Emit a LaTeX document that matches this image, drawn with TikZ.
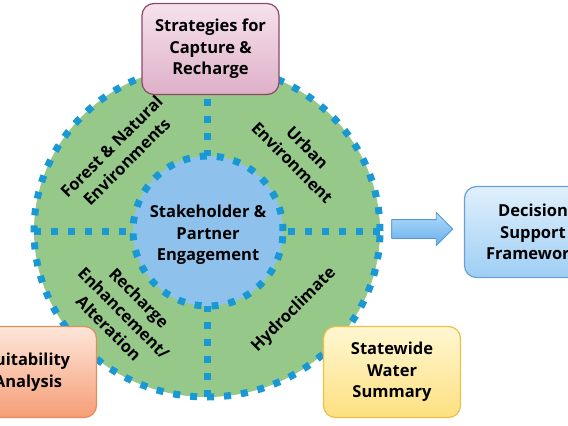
\documentclass[tikz,border=0pt]{standalone}
\usepackage{fontspec}
\setmainfont{Open Sans}
\usetikzlibrary{shapes, positioning}
\definecolor{ringgreen}{RGB}{150,200,138}
\definecolor{hubblue}{RGB}{142,194,237}
\definecolor{dotblue}{RGB}{24,152,212}
\newcommand{\ringfont}{\fontsize{16.5}{21.5}\selectfont\bfseries}
\tikzset{
    dotted ring/.style = {draw=dotblue, line width=7pt, dash pattern=on 7pt off 10pt},
    box/.style = {
        rounded corners=12pt,
        line width=1.2pt,
        minimum width=137pt,
        minimum height=91pt,
        align=center,
        font=\ringfont
    },
    pink box/.style = {box, draw={rgb,255:red,140;green,72;blue,104},
        top color={rgb,255:red,246;green,226;blue,236}, bottom color={rgb,255:red,222;green,176;blue,200}},
    blue box/.style = {box, draw={rgb,255:red,104;green,160;blue,214},
        top color={rgb,255:red,224;green,240;blue,252}, bottom color={rgb,255:red,158;green,206;blue,244}},
    yellow box/.style = {box, draw={rgb,255:red,234;green,192;blue,72},
        top color={rgb,255:red,255;green,247;blue,210}, bottom color={rgb,255:red,253;green,224;blue,128}},
    orange box/.style = {box, draw={rgb,255:red,226;green,140;blue,96},
        top color={rgb,255:red,253;green,230;blue,218}, bottom color={rgb,255:red,246;green,158;blue,118}},
    ring label/.style = {align=center, font=\ringfont, inner sep=1pt}
}

\begin{document}
\begin{tikzpicture}[x=1pt, y=-1pt]
        \useasboundingbox (0, 0) rectangle (568, 426);

        % the wheel
        \node[ellipse, minimum width=346pt, minimum height=332pt, inner sep=0pt, outer sep=0pt,
            fill=ringgreen, dotted ring] (outer) at (207, 231) {};
        \draw[dotted ring] (outer.north) -- (207, 158);
        \draw[dotted ring] (outer.south) -- (207, 304);
        \draw[dotted ring] (outer.west) -- (133, 231);
        \draw[dotted ring] (outer.east) -- (283, 231);
        \node[circle, minimum size=150pt, inner sep=0pt, outer sep=0pt,
            fill=hubblue, dotted ring] (hub) at (208, 231) {};
        \node[ring label] (stake) at (208, 235) {Stakeholder \&\\Partner\\Engagement};

        \node[ring label, rotate=45] (forest) at (119, 154) {Forest \& Natural\\Environments};
        \node[ring label, rotate=-45] (urban) at (300, 155) {Urban\\Environment};
        \node[ring label, rotate=45] (hydro) at (294, 310) {Hydroclimate};
        \node[ring label, rotate=-45] (recharge) at (124, 313) {Recharge\\Enhancement/\\Alteration};

        % boxes round it
        \node[pink box] (strategies) at (210.5, 49) {Strategies for\\Capture \&\\Recharge};
        \node[blue box] (decision) at (533, 232) {Decision\\Support\\Framework};
        \node[yellow box] (statewide) at (392, 372) {Statewide\\Water\\Summary};
        \node[orange box] (suitability) at (28, 372) {Suitability\\Analysis};

        \node[single arrow, draw={rgb,255:red,82;green,152;blue,214}, line width=0.8pt,
            top color={rgb,255:red,176;green,218;blue,250}, bottom color={rgb,255:red,104;green,176;blue,236},
            minimum height=61pt, inner sep=9pt, single arrow head extend=7pt,
            outer sep=0pt] (arrow) at (417.5, 229) {};
    \end{tikzpicture}
\end{document}
